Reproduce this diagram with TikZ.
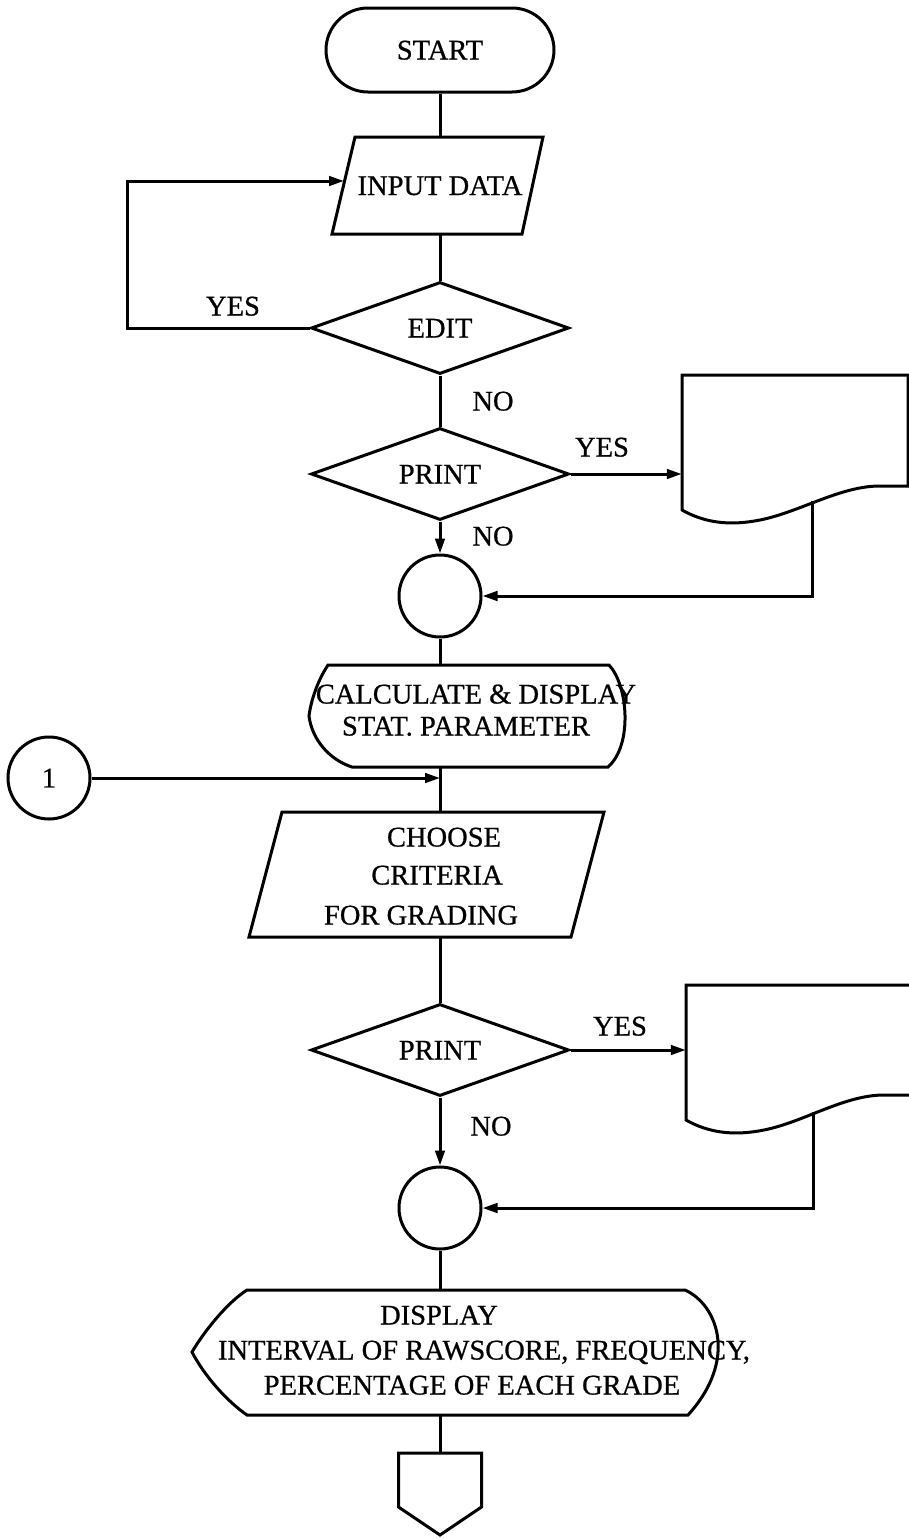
\documentclass[tikz,border=0pt]{standalone}
\usepackage{fontspec}
\setmainfont{Liberation Serif}[BoldFont={Liberation Serif}, BoldFeatures={FakeBold=0.7}]
\usetikzlibrary{shapes.geometric,arrows.meta}
\begin{document}
\begin{tikzpicture}[x=1pt,y=-1pt,
  every node/.style={font=\fontsize{28.5}{34}\selectfont\bfseries},
  ln/.style={line width=3pt, line join=miter},
  arr/.style={ln, -{Triangle[length=15pt,width=9.5pt]}},
  lbl/.style={inner sep=0pt, text height=19pt, text depth=0pt},
  dec/.style={draw, ln, diamond, aspect=2.8, minimum width=258pt, minimum height=92pt, inner sep=0pt, text height=19pt, text depth=0pt},
  conn/.style={draw, ln, circle, minimum size=82pt, inner sep=0pt},
  box/.style={inner sep=0pt}
]
\useasboundingbox (0,0) rectangle (909,1539);

% START
\node[draw, ln, rectangle, rounded corners=42pt, minimum width=228pt, minimum height=84pt, inner sep=0pt, text height=19pt, text depth=0pt] (start) at (440,50) {START};

% INPUT DATA
\draw[ln] (355,137) -- (543,137) -- (522,234) -- (332,234) -- cycle;
\node[lbl, minimum width=188pt, minimum height=97pt] (inbox) at (440,185.5) {INPUT DATA};
\coordinate (inL) at (344,181);
\coordinate (loopx) at (127,181);
\draw[ln] (start) -- (inbox);

% EDIT
\node[dec] (edit) at (440,328) {EDIT};
\draw[ln] (inbox) -- (edit);
\draw[arr] (edit.west) -| (loopx) -- (inL);
\node[lbl] (yes1) at (233,306) {YES};

% PRINT 1
\node[dec] (print1) at (440,474) {PRINT};
\draw[ln] (edit) -- (print1);
\node[lbl] (no1) at (493,401) {NO};

\begin{scope}[shift={(682,375)}]
  \node[box, minimum width=226pt, minimum height=135pt] (doc1) at (113,67.5) {};
  \draw[ln] (226,111) -- (226,0) -- (0,0) -- (0,135) .. controls (23,148) and (48,151) .. (78,145) .. controls (118,137) and (158,111) .. (198,111) -- cycle;
  \coordinate (doc1out) at (130,126);
\end{scope}
\draw[arr] (print1.east) -- (print1.east -| doc1.west);
\node[lbl] (yes2) at (602,447) {YES};

\node[conn] (c1) at (440,596) {};
\draw[arr] (print1) -- (c1);
\node[lbl] (no2) at (493,536) {NO};
\draw[arr] (doc1out) |- (c1.east);

% CALCULATE
\draw[ln] (309,716) .. controls (311,700) and (318,680) .. (328,665) -- (609,665) .. controls (628,685) and (633,745) .. (608,767) -- (352,767) .. controls (330,760) and (312,740) .. (309,716) -- cycle;
\node[box, minimum width=300pt, minimum height=102pt] (calc) at (466,716) {};
\node[lbl] (calcA) at (476,694) {CALCULATE \& DISPLAY};
\node[lbl] (calcB) at (466,726) {STAT. PARAMETER};
\draw[ln] (c1.south) -- (c1.south |- calc.north);

% CHOOSE
\draw[ln] (282,812) -- (604,812) -- (571,937) -- (249,937) -- cycle;
\node[box, minimum width=290pt, minimum height=125pt] (choose) at (440,874.5) {};
\node[lbl] (chA) at (444,837) {CHOOSE};
\node[lbl] (chB) at (437,875) {CRITERIA};
\node[lbl] (chC) at (421,915) {FOR GRADING};
\draw[ln] (calc.south -| c1) -- (choose);

% connector 1
\node[conn] (con1) at (49,778) {1};
\draw[arr] (con1) -- (con1 -| c1);

% PRINT 2
\node[dec] (print2) at (440,1050) {PRINT};
\draw[ln] (choose) -- (print2);
\node[lbl] (yes3) at (620,1026) {YES};
\node[lbl] (no3) at (491,1126) {NO};

\begin{scope}[shift={(686,985)}]
  \node[box, minimum width=226pt, minimum height=135pt] (doc2) at (113,67.5) {};
  \draw[ln] (235,0) -- (0,0) -- (0,135) .. controls (23,148) and (48,151) .. (78,145) .. controls (118,137) and (158,110) .. (198,110) -- (235,110);
  \coordinate (doc2out) at (127,127);
\end{scope}
\draw[arr] (print2.east) -- (print2.east -| doc2.west);

\node[conn] (c2) at (440,1208) {};
\draw[arr] (print2) -- (c2);
\draw[arr] (doc2out) |- (c2.east);

% DISPLAY
\draw[ln] (192,1352) .. controls (205,1330) and (228,1302) .. (247,1290) -- (685,1290) .. controls (718,1305) and (738,1360) .. (688,1415) -- (247,1415) .. controls (228,1402) and (205,1377) .. (192,1352) -- cycle;
\node[box, minimum width=490pt, minimum height=125pt] (disp) at (440,1352.5) {};
\node[lbl] (dA) at (439,1315) {DISPLAY};
\node[lbl] (dB) at (484,1350) {INTERVAL OF RAWSCORE, FREQUENCY,};
\node[lbl] (dC) at (472,1385) {PERCENTAGE OF EACH GRADE};
\draw[ln] (c2) -- (disp);

% off-page connector
\draw[ln] (398.5,1453) -- (481.5,1453) -- (481.5,1507) -- (440,1535) -- (398.5,1507) -- cycle;
\node[box, minimum width=83pt, minimum height=54pt] (off) at (440,1480) {};
\draw[ln] (disp) -- (off);
\end{tikzpicture}
\end{document}
